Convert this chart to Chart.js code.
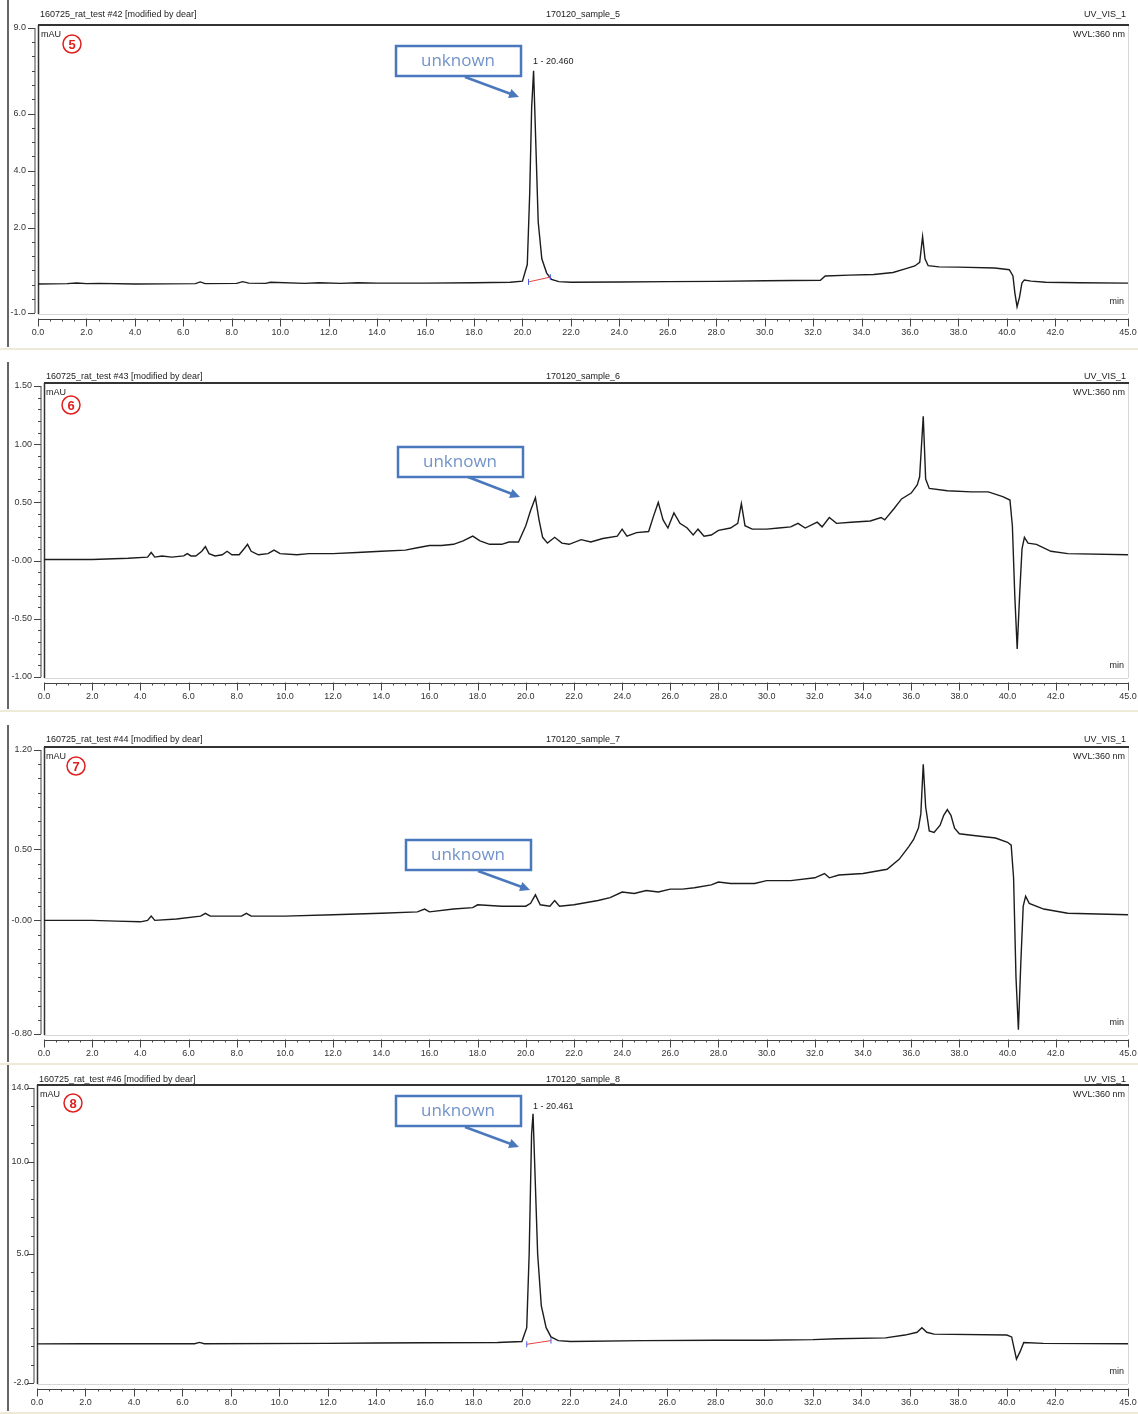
<!DOCTYPE html>
<html>
<head>
<meta charset="utf-8">
<script src="https://cdn.jsdelivr.net/npm/chart.js"></script>
<style>
  body{margin:0;background:#fff;}
  #page{position:relative;width:1138px;height:1414px;overflow:hidden;background:#fff;}
  .panel{position:absolute;left:0;width:1138px;}
</style>
</head>
<body>
<div id="page">
  <canvas id="c5" class="panel" style="top:0px" width="1138" height="350"></canvas>
  <canvas id="c6" class="panel" style="top:362px" width="1138" height="350"></canvas>
  <canvas id="c7" class="panel" style="top:725px" width="1138" height="340"></canvas>
  <canvas id="c8" class="panel" style="top:1065px" width="1138" height="349"></canvas>
</div>
<script>
// retention time axis (min)
const xTicks = [0,2,4,6,8,10,12,14,16,18,20,22,24,26,28,30,32,34,36,38,40,42,45];

// sample 5
const t5 = [0,1.2,1.6,2.0,2.5,4,6.5,6.7,6.9,8.2,8.45,8.7,9.4,9.6,11,11.6,12.5,13.2,14,16,18,19.5,20.0,20.2,20.3,20.38,20.46,20.55,20.65,20.8,21.0,21.2,21.5,22,24,26,28,30,32.3,32.5,33.5,34.5,35.3,35.8,36.2,36.4,36.52,36.62,36.75,37.2,38,39.5,40.1,40.25,40.33,40.42,40.52,40.62,40.72,41.0,41.6,43,45];
const v5 = [0.02,0.03,0.05,0.03,0.04,0.02,0.03,0.09,0.03,0.04,0.1,0.05,0.04,0.08,0.04,0.06,0.04,0.06,0.05,0.05,0.06,0.08,0.12,0.7,3.2,6.2,7.5,5.0,2.2,0.9,0.4,0.18,0.1,0.08,0.09,0.1,0.11,0.13,0.15,0.3,0.33,0.35,0.42,0.55,0.65,0.78,1.68,0.9,0.66,0.62,0.61,0.58,0.52,0.3,-0.3,-0.78,-0.45,0.05,0.16,0.12,0.08,0.06,0.05];
const base5T = [20.25,21.15];
const base5V = [0.09,0.26];

// sample 6
const t6 = [0,2,3.5,4.3,4.45,4.6,4.9,5.3,5.8,5.95,6.1,6.3,6.55,6.7,6.85,7.1,7.4,7.6,7.8,8.1,8.3,8.45,8.6,8.9,9.3,9.55,9.8,10.5,11,12,13,14,15,15.5,16,16.5,17,17.4,17.8,18.1,18.5,19,19.3,19.7,20.0,20.2,20.4,20.55,20.7,20.9,21.2,21.5,21.8,22.3,22.7,23.2,23.8,24.0,24.2,24.6,25.1,25.3,25.5,25.7,25.9,26.15,26.4,26.7,26.95,27.15,27.4,27.7,28,28.5,28.8,28.95,29.1,29.4,30,30.5,31,31.3,31.6,32.1,32.3,32.6,32.9,33.5,34.3,34.75,34.9,35.3,35.6,36.0,36.25,36.35,36.5,36.6,36.75,37.5,38.5,39.2,39.8,40.1,40.2,40.3,40.4,40.5,40.6,40.7,40.85,41.2,41.8,42.5,45];
const v6 = [0.01,0.01,0.02,0.03,0.07,0.03,0.04,0.03,0.04,0.06,0.04,0.04,0.08,0.12,0.06,0.04,0.05,0.08,0.05,0.05,0.1,0.14,0.08,0.05,0.06,0.09,0.06,0.05,0.06,0.06,0.07,0.08,0.09,0.11,0.13,0.13,0.14,0.17,0.21,0.17,0.14,0.14,0.16,0.16,0.3,0.43,0.54,0.35,0.2,0.15,0.2,0.15,0.14,0.18,0.16,0.19,0.21,0.27,0.21,0.24,0.25,0.38,0.5,0.35,0.28,0.41,0.32,0.28,0.22,0.27,0.21,0.22,0.26,0.28,0.32,0.49,0.3,0.27,0.27,0.28,0.29,0.32,0.28,0.33,0.29,0.37,0.32,0.33,0.34,0.37,0.35,0.45,0.53,0.58,0.65,0.72,1.24,0.7,0.62,0.6,0.59,0.59,0.55,0.52,0.3,-0.3,-0.76,-0.3,0.1,0.2,0.15,0.14,0.08,0.06,0.05];

// sample 7
const t7 = [0,2,3,4,4.3,4.45,4.6,5.5,6.5,6.7,6.9,8.2,8.4,8.6,10,12,14,15.5,15.8,16,17,17.8,18,19,20,20.2,20.4,20.6,21,21.2,21.4,22,23,23.5,24,24.5,25,25.5,26,26.5,27,27.7,28,28.5,29.5,30,31,32,32.4,32.6,33,34,35,35.5,35.9,36.1,36.3,36.4,36.5,36.6,36.75,36.95,37.2,37.35,37.5,37.65,37.8,38.0,38.5,39.5,40.0,40.15,40.25,40.35,40.45,40.55,40.65,40.75,40.9,41.5,42.5,45];
const v7 = [0,0,-0.005,-0.01,0,0.03,0,0.01,0.03,0.05,0.03,0.03,0.05,0.03,0.03,0.04,0.05,0.06,0.08,0.06,0.08,0.09,0.11,0.1,0.1,0.12,0.18,0.11,0.1,0.14,0.1,0.11,0.14,0.16,0.2,0.19,0.21,0.2,0.22,0.22,0.23,0.25,0.27,0.26,0.26,0.28,0.28,0.3,0.33,0.3,0.32,0.33,0.36,0.43,0.52,0.57,0.65,0.75,1.1,0.8,0.63,0.62,0.67,0.74,0.78,0.74,0.65,0.61,0.6,0.58,0.55,0.53,0.3,-0.4,-0.77,-0.3,0.1,0.17,0.12,0.08,0.05,0.04];

// sample 8
const t8 = [0,2,6.5,6.7,6.9,12,14,16,19,20.0,20.2,20.3,20.4,20.46,20.55,20.65,20.8,21.0,21.2,21.5,22,25,28,30,32,33,35,35.8,36.3,36.5,36.7,37,40,40.2,40.4,40.55,40.7,41.5,45];
const v8 = [0.12,0.13,0.13,0.2,0.13,0.15,0.17,0.18,0.2,0.25,1.0,5.0,11.5,12.6,9.0,5.0,2.2,1.0,0.5,0.3,0.25,0.3,0.32,0.32,0.35,0.4,0.45,0.6,0.75,1.0,0.75,0.65,0.6,0.5,-0.7,-0.3,0.2,0.15,0.13];
const base8T = [20.2,21.2];
const base8V = [0.1,0.3];

// y axis ticks
const yTicks5 = [9,6,4,2,-1];
const yLabels5 = ['9.0','6.0','4.0','2.0','-1.0'];
const yTicks6 = [1.5,1,0.5,0,-0.5,-1];
const yLabels6 = ['1.50','1.00','0.50','-0.00','-0.50','-1.00'];
const yTicks7 = [1.2,0.5,0,-0.8];
const yLabels7 = ['1.20','0.50','-0.00','-0.80'];
const yTicks8 = [14,10,5,-2];
const yLabels8 = ['14.0','10.0','5.0','-2.0'];

const FONT = "'Liberation Sans', Arial, sans-serif";

const panels = [
  {id:'c5', num:'5', run:'160725_rat_test #42 [modified by dear]', sample:'170120_sample_5',
   t:t5, v:v5, bt:base5T, bv:base5V, yt:yTicks5, yl:yLabels5, min:-1, max:9, minor:0.5,
   left:38, top:28, bottom:313, pad:12, peak:'1 - 20.460', peakY:62, box:[396,46], arrow:[465,77,519,97], circ:[72,44], mau:41},
  {id:'c6', num:'6', run:'160725_rat_test #43 [modified by dear]', sample:'170120_sample_6',
   t:t6, v:v6, yt:yTicks6, yl:yLabels6, min:-1, max:1.5, minor:0.1,
   left:44, top:24, bottom:315, pad:12, box:[398,85], arrow:[468,115,520,135], circ:[71,43], mau:46},
  {id:'c7', num:'7', run:'160725_rat_test #44 [modified by dear]', sample:'170120_sample_7',
   t:t7, v:v7, yt:yTicks7, yl:yLabels7, min:-0.8, max:1.2, minor:0.1,
   left:44, top:25, bottom:309, pad:12, box:[406,115], arrow:[478,146,530,165], circ:[76,41], mau:46},
  {id:'c8', num:'8', run:'160725_rat_test #46 [modified by dear]', sample:'170120_sample_8',
   t:t8, v:v8, bt:base8T, bv:base8V, yt:yTicks8, yl:yLabels8, min:-2, max:14, minor:1,
   left:37, top:23, bottom:318, pad:8, peak:'1 - 20.461', peakY:42, box:[396,31], arrow:[465,62,519,82], circ:[73,38], mau:40}
];

function seg(ctx, x1, y1, x2, y2) {
  ctx.beginPath(); ctx.moveTo(x1, y1); ctx.lineTo(x2, y2); ctx.stroke();
}

const frame = {
  id: 'frame',
  beforeDatasetsDraw(chart, args, o) {
    const p = o.panel, ctx = chart.ctx, a = chart.chartArea, xs = chart.scales.x, ys = chart.scales.y;
    ctx.save();
    // window edge of the screenshot
    ctx.strokeStyle = '#666'; ctx.lineWidth = 2;
    seg(ctx, 8, 0, 8, chart.height - 3);
    ctx.strokeStyle = '#efe9d8'; ctx.lineWidth = 2;
    seg(ctx, 0, chart.height - 1, chart.width, chart.height - 1);
    // plot frame
    ctx.strokeStyle = '#d6d6d6'; ctx.lineWidth = 1;
    seg(ctx, a.right + 0.5, a.top - 3, a.right + 0.5, a.bottom + 1);
    seg(ctx, a.left, a.bottom + 1.5, a.right, a.bottom + 1.5);
    ctx.strokeStyle = '#333'; ctx.lineWidth = 2;
    seg(ctx, a.left, a.top - 3, a.right + 1, a.top - 3);
    ctx.lineWidth = 1.5;
    seg(ctx, a.left + 0.5, a.top - 3, a.left + 0.5, a.bottom + 1);
    // y axis
    ctx.strokeStyle = '#444'; ctx.lineWidth = 1;
    seg(ctx, a.left - 3, a.top, a.left - 3, a.bottom);
    const n = Math.round((p.max - p.min) / p.minor);
    for (let i = 0; i <= n; i++) {
      const py = Math.round(ys.getPixelForValue(p.min + i * p.minor)) + 0.5;
      seg(ctx, a.left - 6, py, a.left - 3, py);
    }
    p.yt.forEach(v => {
      const py = Math.round(ys.getPixelForValue(v)) + 0.5;
      seg(ctx, a.left - 10, py, a.left - 3, py);
    });
    // x axis
    const ay = a.bottom + 6.5;
    seg(ctx, a.left, ay, a.right, ay);
    for (let i = 0; i <= 90; i++) {
      const px = Math.round(xs.getPixelForValue(i * 0.5)) + 0.5;
      seg(ctx, px, ay, px, ay + 2);
    }
    xTicks.forEach(v => {
      const px = Math.round(xs.getPixelForValue(v)) + 0.5;
      seg(ctx, px, ay - 1, px, ay + 7);
    });
    ctx.restore();
  },
  afterDraw(chart, args, o) {
    const p = o.panel, ctx = chart.ctx, a = chart.chartArea;
    ctx.save();
    ctx.fillStyle = '#222';
    ctx.font = '9px ' + FONT;
    ctx.textBaseline = 'middle';
    ctx.textAlign = 'left';
    ctx.fillText(p.run, a.left + 2, 15);
    ctx.textAlign = 'center';
    ctx.fillText(p.sample, 583, 15);
    ctx.textAlign = 'right';
    ctx.fillText('UV_VIS_1', 1126, 15);
    ctx.fillText('WVL:360 nm', 1125, a.top + 7);
    ctx.fillText('min', 1124, a.bottom - 11);
    ctx.textAlign = 'left';
    ctx.fillText('mAU', p.mau, a.top + 7);
    if (p.peak) ctx.fillText(p.peak, 533, p.peakY);
    // circled sample number
    ctx.strokeStyle = '#e02020'; ctx.lineWidth = 1.5;
    ctx.beginPath(); ctx.arc(p.circ[0], p.circ[1], 9, 0, Math.PI * 2); ctx.stroke();
    ctx.fillStyle = '#e02020';
    ctx.font = 'bold 13px ' + FONT;
    ctx.textAlign = 'center';
    ctx.fillText(p.num, p.circ[0], p.circ[1] + 1);
    // "unknown" callout
    const bx = p.box[0], by = p.box[1];
    ctx.fillStyle = '#fff';
    ctx.fillRect(bx, by, 125, 30);
    ctx.strokeStyle = '#4a78bd'; ctx.lineWidth = 2.5;
    ctx.strokeRect(bx, by, 125, 30);
    ctx.fillStyle = '#7393c9';
    ctx.font = '17px "Open Sans", sans-serif';
    ctx.fillText('unknown', bx + 62, by + 15);
    const [x1, y1, x2, y2] = p.arrow;
    ctx.strokeStyle = '#4a78bd'; ctx.lineWidth = 2.5;
    seg(ctx, x1, y1, x2 - 4, y2 - 1.5);
    const ang = Math.atan2(y2 - y1, x2 - x1);
    ctx.fillStyle = '#4a78bd';
    ctx.beginPath();
    ctx.moveTo(x2, y2);
    ctx.lineTo(x2 - 11 * Math.cos(ang - 0.45), y2 - 11 * Math.sin(ang - 0.45));
    ctx.lineTo(x2 - 11 * Math.cos(ang + 0.45), y2 - 11 * Math.sin(ang + 0.45));
    ctx.closePath(); ctx.fill();
    ctx.restore();
  }
};

panels.forEach(p => {
  const H = document.getElementById(p.id).height;
  const datasets = [{
    data: p.t.map((x, i) => ({x: x, y: p.v[i]})),
    borderColor: '#1c1c1c', borderWidth: 1.4, pointRadius: 0, tension: 0, order: 2
  }];
  if (p.bt) {
    datasets.push({
      data: p.bt.map((x, i) => ({x: x, y: p.bv[i]})),
      borderColor: '#e84040', borderWidth: 1, pointStyle: 'line', rotation: 90,
      pointRadius: 3, pointBorderColor: '#4a5ee8', pointBorderWidth: 1, order: 1
    });
  }
  new Chart(document.getElementById(p.id), {
    type: 'line',
    data: {datasets: datasets},
    options: {
      responsive: false, animation: false,
      layout: {padding: {left: 0, right: 10, top: p.top, bottom: 0}},
      plugins: {legend: {display: false}, tooltip: {enabled: false}, frame: {panel: p}},
      scales: {
        x: {
          type: 'linear', min: 0, max: 45,
          grid: {display: false, drawTicks: false}, border: {display: false},
          afterBuildTicks: s => { s.ticks = xTicks.map(v => ({value: v})); },
          afterFit: s => { s.height = H - p.bottom; s.paddingLeft = 0; s.paddingRight = 0; },
          ticks: {autoSkip: false, maxRotation: 0, padding: 14, color: '#333',
                  font: {size: 9, family: FONT}, callback: v => v.toFixed(1)}
        },
        y: {
          type: 'linear', min: p.min, max: p.max,
          grid: {display: false, drawTicks: false}, border: {display: false},
          afterBuildTicks: s => { s.ticks = p.yt.map(v => ({value: v})); },
          afterFit: s => { s.width = p.left; s.paddingTop = 0; s.paddingBottom = 0; },
          ticks: {padding: p.pad, color: '#333', font: {size: 9, family: FONT},
                  callback: (v, i) => p.yl[i]}
        }
      }
    },
    plugins: [frame]
  });
});
</script>
</body>
</html>
